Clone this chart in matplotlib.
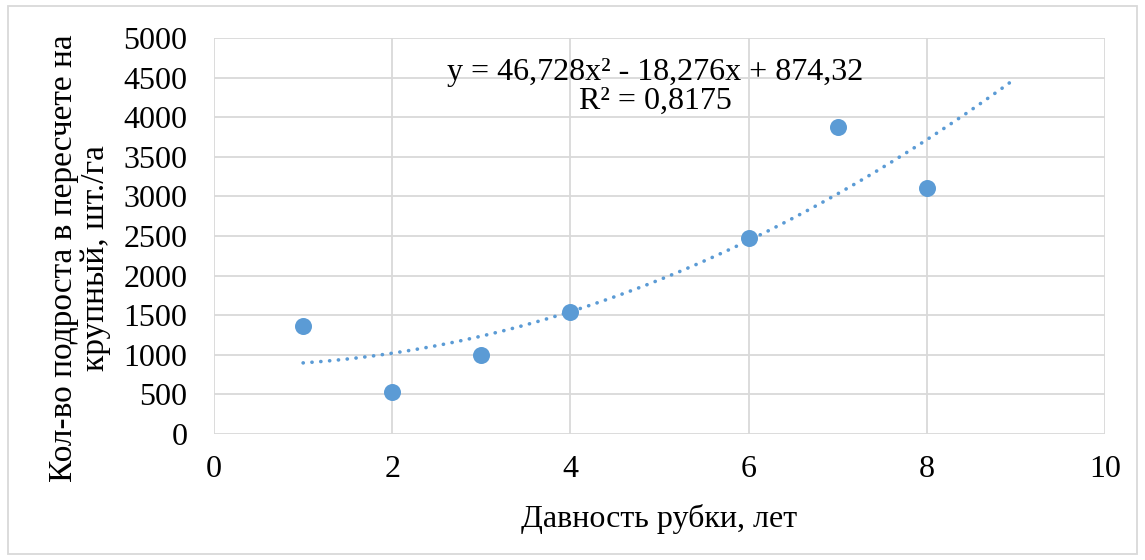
import numpy as np
import matplotlib
matplotlib.use("Agg")
import matplotlib.pyplot as plt
from matplotlib.patches import Rectangle

years = [1, 2, 3, 4, 6, 7, 8]
counts = [1360, 530, 1000, 1540, 2470, 3880, 3110]
x_ticks = [0, 2, 4, 6, 8, 10]
y_ticks = [0, 500, 1000, 1500, 2000, 2500, 3000, 3500, 4000, 4500, 5000]
equation = "y = 46,728x² - 18,276x + 874,32\nR² = 0,8175"
xlabel = "Давность рубки, лет"
ylabel = "Кол-во подроста в пересчете на\nкрупный, шт./га"

plt.rcParams['font.family'] = ['Liberation Serif', 'DejaVu Serif']
color = '#5b9bd5'
fs = 23

fig = plt.figure(figsize=(11.45, 5.6), dpi=100)
ax = fig.add_axes([214/1145, 1-434/560, (1105-214)/1145, (434-38)/560])

coef = np.polyfit(years, counts, 2)
xt = np.linspace(1, 9, 200)
ax.plot(xt, np.polyval(coef, xt), color=color, lw=2.6, linestyle=(0, (0.05, 2.4)),
        dash_capstyle='round', zorder=2)
ax.scatter(years, counts, s=150, color=color, zorder=3, linewidths=0)

ax.set_xlim(0, 10)
ax.set_ylim(0, 5000)
ax.set_xticks(x_ticks)
ax.set_yticks(y_ticks)
ax.tick_params(length=0, labelsize=fs, pad=15)
ax.tick_params(axis='y', pad=19)
ax.grid(True, color='#d9d9d9', lw=1.3)
ax.set_axisbelow(True)
for s in ax.spines.values():
    s.set_visible(False)

ax.text(4.95, 4380, equation, ha='center', va='center', fontsize=fs, linespacing=1.0)

fig.text(659/1145, 1-519/560, xlabel, ha='center', va='center', fontsize=fs)
fig.text(80/1145, 1-258/560, ylabel, ha='center', va='center', rotation=90, fontsize=24,
         linespacing=1.05)

fig.patches.append(Rectangle((8/1145, 6/560), 1-16/1145, 1-12/560, transform=fig.transFigure,
                             fill=False, edgecolor='#d9d9d9', lw=1.3))

fig.savefig("out.png", dpi=100, facecolor='white')
